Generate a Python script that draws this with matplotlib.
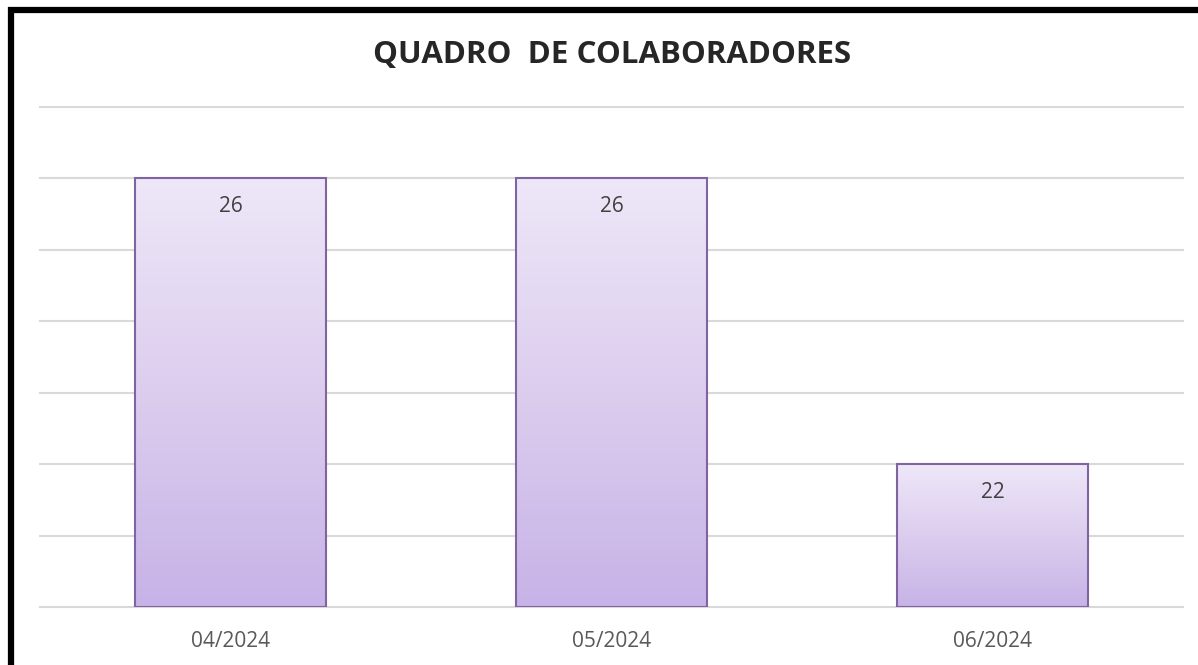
import numpy as np
import matplotlib.pyplot as plt
from matplotlib.colors import LinearSegmentedColormap
from matplotlib.lines import Line2D

meses = ['04/2024', '05/2024', '06/2024']
colaboradores = [26, 26, 22]

fig = plt.figure(figsize=(11.98, 6.65), dpi=100)
W, H = 1198, 665
ax = fig.add_axes([40 / W, 1 - 607 / H, (1183 - 40) / W, (607 - 107) / H])

base = 20
ax.set_xlim(-0.5, 2.5)
ax.set_ylim(base, 27)
ax.set_yticks(np.arange(20, 28, 1))
ax.yaxis.grid(True, color='#D9D9D9', linewidth=1.5)
for gl in ax.get_ygridlines():
    gl.set_clip_on(False)
ax.set_axisbelow(True)
ax.tick_params(axis='y', left=False, labelleft=False)
ax.tick_params(axis='x', bottom=False, labelsize=15, labelcolor='#595959', pad=14)
for s in ax.spines.values():
    s.set_visible(False)

x = np.arange(len(meses))
bars = ax.bar(x, np.array(colaboradores) - base, bottom=base, width=0.5,
              facecolor='none', edgecolor='#8064A2', linewidth=1.5, zorder=3)
ax.set_xticks(x)
ax.set_xticklabels(meses, fontfamily='Open Sans')

# gradient fill, light on top, darker lavender at the bottom
cmap = LinearSegmentedColormap.from_list('lav', ['#C7B3E7', '#DCCDEE', '#EEE7F8'])
grad = np.linspace(0, 1, 256).reshape(-1, 1)
for b, v in zip(bars, colaboradores):
    x0 = b.get_x()
    im = ax.imshow(grad, cmap=cmap, origin='lower', aspect='auto',
                   extent=[x0, x0 + b.get_width(), base, v], zorder=2)
    im.set_clip_path(b)
    ax.text(b.get_x() + b.get_width() / 2, v - 0.4, str(v), ha='center', va='center',
            fontsize=15, color='#404040', fontfamily='Open Sans', zorder=4)

ax.set_xlim(-0.5, 2.5)
ax.set_ylim(base, 27)

fig.text(0.511, 1 - 55 / H, 'QUADRO  DE COLABORADORES', ha='center', va='center',
         fontsize=22.5, fontweight='bold', color='#262626', fontfamily='Open Sans')

# black frame (left and top)
fig.add_artist(Line2D([11 / W, 11 / W], [0, 1 - 7 / H], color='black', linewidth=4.5,
                      transform=fig.transFigure, solid_capstyle='butt'))
fig.add_artist(Line2D([8 / W, 1], [1 - 10 / H, 1 - 10 / H], color='black', linewidth=4.5,
                      transform=fig.transFigure, solid_capstyle='butt'))

fig.savefig('out.png', dpi=100)
